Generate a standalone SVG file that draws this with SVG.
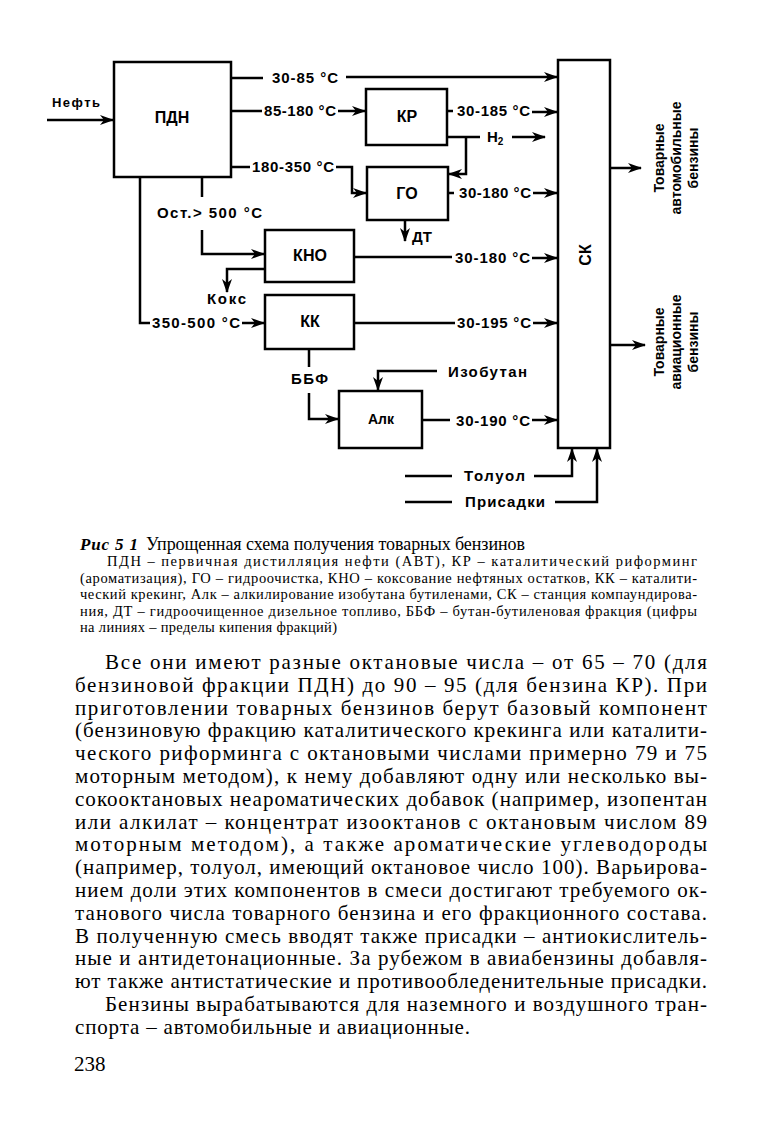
<svg xmlns="http://www.w3.org/2000/svg" width="764" height="1133" viewBox="0 0 764 1133">
<style>
.box{fill:none;stroke:#000;stroke-width:2.5}
.ln{fill:none;stroke:#000;stroke-width:2.5}
.arr{marker-end:url(#ah)}
.lbl{font-family:"Liberation Sans",Arial,sans-serif;font-weight:bold;font-size:15px;fill:#000}
.nm{font-family:"Liberation Sans",Arial,sans-serif;font-weight:bold;font-size:16px;text-anchor:middle;fill:#000}
.vt{font-family:"Liberation Sans",Arial,sans-serif;font-weight:bold;font-size:14px;text-anchor:middle;fill:#000}
.cap{font-family:"Liberation Serif","Times New Roman",serif;font-size:14.5px;fill:#000}
.body{font-family:"Liberation Serif","Times New Roman",serif;font-size:21px;fill:#000}
</style>
<defs>
<marker id="ah" markerUnits="userSpaceOnUse" markerWidth="14" markerHeight="10" refX="13" refY="5" orient="auto"><path d="M0,0 L14,5 L0,10 L4,5 Z" fill="#000"/></marker>
</defs>

<g id="node-pdn"><rect class="box" x="114" y="62" width="117" height="115"/><text class="nm" x="172" y="123">ПДН</text></g>
<g id="node-kr"><rect class="box" x="366" y="89" width="81" height="56"/><text class="nm" x="407" y="122">КР</text></g>
<g id="node-go"><rect class="box" x="367" y="167" width="81" height="53"/><text class="nm" x="407" y="199">ГО</text></g>
<g id="node-kno"><rect class="box" x="265" y="230" width="89" height="52"/><text class="nm" x="310" y="261">КНО</text></g>
<g id="node-kk"><rect class="box" x="265" y="295" width="89" height="54"/><text class="nm" x="310" y="327">КК</text></g>
<g id="node-alk"><rect class="box" x="339" y="391" width="83" height="57"/><text class="nm" x="381" y="424" style="font-size:14px">Алк</text></g>
<g id="node-sk"><rect class="box" x="558" y="60" width="52" height="388"/><text class="nm" transform="translate(591,255) rotate(-90)">СК</text></g>
<g id="node-out-auto"><text class="vt" transform="translate(664,158) rotate(-90)">Товарные</text><text class="vt" transform="translate(681,158) rotate(-90)">автомобильные</text><text class="vt" transform="translate(698,158) rotate(-90)">бензины</text></g>
<g id="node-out-avia"><text class="vt" transform="translate(664,342) rotate(-90)">Товарные</text><text class="vt" transform="translate(681,342) rotate(-90)">авиационные</text><text class="vt" transform="translate(698,342) rotate(-90)">бензины</text></g>

<g id="connectors">
<path class="ln arr" d="M47,120 H113"/>
<path class="ln" d="M231,78 H263"/><path class="ln arr" d="M346,77 H557"/>
<path class="ln" d="M231,111 H262"/><path class="ln arr" d="M338,111 H365"/>
<path class="ln" d="M447,111 H453"/><path class="ln arr" d="M532,112 H557"/>
<path class="ln" d="M447,137 H480"/><path class="ln arr" d="M512,137 H545"/>
<path class="ln arr" d="M466,137 V174 H449"/>
<path class="ln" d="M231,167 H250"/><path class="ln arr" d="M336,167 H352 V193 H366"/>
<path class="ln" d="M448,193 H454"/><path class="ln arr" d="M533,193 H557"/>
<path class="ln arr" d="M405,220 V241"/>
<path class="ln" d="M202,177 V197"/><path class="ln arr" d="M202,230 V254 H264"/>
<path class="ln arr" d="M265,269 H227 V292"/>
<path class="ln" d="M354,257 H452"/><path class="ln arr" d="M532,258 H557"/>
<path class="ln" d="M140,177 V323 H150"/><path class="ln arr" d="M242,323 H264"/>
<path class="ln" d="M354,323 H455"/><path class="ln arr" d="M533,323 H557"/>
<path class="ln" d="M309,349 V367"/><path class="ln arr" d="M309,393 V419 H338"/>
<path class="ln arr" d="M437,371 H378 V390"/>
<path class="ln" d="M422,420 H450"/><path class="ln arr" d="M532,420 H557"/>
<path class="ln" d="M405,476 H452"/><path class="ln arr" d="M534,476 H572 V449"/>
<path class="ln" d="M405,502 H452"/><path class="ln arr" d="M555,502 H597 V449"/>
<path class="ln arr" d="M610,168 H641"/>
<path class="ln arr" d="M610,345 H645"/>
<text class="lbl" x="52" y="107" style="font-size:13px" textLength="48">Нефть</text>
<text class="lbl" x="272" y="83" textLength="66">30-85 °C</text>
<text class="lbl" x="264" y="116" textLength="72">85-180 °C</text>
<text class="lbl" x="457" y="116" textLength="73">30-185 °C</text>
<text class="lbl" x="487" y="142">H<tspan dy="3" style="font-size:10px">2</tspan></text>
<text class="lbl" x="252" y="172" textLength="82">180-350 °C</text>
<text class="lbl" x="459" y="198" textLength="72">30-180 °C</text>
<text class="lbl" x="412" y="242">ДТ</text>
<text class="lbl" x="157" y="218" textLength="105">Ост.&gt; 500 °C</text>
<text class="lbl" x="207" y="304" textLength="39">Кокс</text>
<text class="lbl" x="455" y="263" textLength="75">30-180 °C</text>
<text class="lbl" x="152" y="328" textLength="88">350-500 °C</text>
<text class="lbl" x="457" y="328" textLength="74">30-195 °C</text>
<text class="lbl" x="291" y="384" textLength="37">ББФ</text>
<text class="lbl" x="448" y="377" textLength="79">Изобутан</text>
<text class="lbl" x="456" y="426" textLength="74">30-190 °C</text>
<text class="lbl" x="464" y="481" textLength="61">Толуол</text>
<text class="lbl" x="465" y="507" textLength="80">Присадки</text>
</g>

<g id="caption">
<text class="cap" x="80" y="550" style="font-size:17px;font-style:italic;font-weight:bold" textLength="58">Рис  5 1</text>
<text class="cap" x="146" y="550" style="font-size:18px" textLength="379">Упрощенная схема получения товарных бензинов</text>
<text class="cap" x="107" y="566" textLength="590">ПДН – первичная дистилляция нефти (АВТ), КР – каталитический риформинг</text>
<text class="cap" x="80" y="583" textLength="617">(ароматизация), ГО – гидроочистка, КНО – коксование нефтяных остатков, КК – каталити-</text>
<text class="cap" x="80" y="599" textLength="617">ческий крекинг, Алк – алкилирование изобутана бутиленами, СК – станция компаундирова-</text>
<text class="cap" x="80" y="616" textLength="617">ния, ДТ – гидроочищенное дизельное топливо, ББФ – бутан-бутиленовая фракция (цифры</text>
<text class="cap" x="80" y="632" textLength="257">на линиях – пределы кипения фракций)</text>
</g>

<g id="body">
<text class="body" x="105" y="669" textLength="602">Все они имеют разные октановые числа – от 65 – 70 (для</text>
<text class="body" x="75" y="692" textLength="632">бензиновой фракции ПДН) до 90 – 95 (для бензина КР). При</text>
<text class="body" x="75" y="715" textLength="632">приготовлении товарных бензинов берут базовый компонент</text>
<text class="body" x="75" y="737" textLength="632">(бензиновую фракцию каталитического крекинга или каталити-</text>
<text class="body" x="75" y="760" textLength="632">ческого риформинга с октановыми числами примерно 79 и 75</text>
<text class="body" x="75" y="783" textLength="632">моторным методом), к нему добавляют одну или несколько вы-</text>
<text class="body" x="75" y="806" textLength="632">сокооктановых неароматических добавок (например, изопентан</text>
<text class="body" x="75" y="829" textLength="632">или алкилат – концентрат изооктанов с октановым числом 89</text>
<text class="body" x="75" y="851" textLength="632">моторным методом), а также ароматические углеводороды</text>
<text class="body" x="75" y="874" textLength="632">(например, толуол, имеющий октановое число 100). Варьирова-</text>
<text class="body" x="75" y="897" textLength="632">нием доли этих компонентов в смеси достигают требуемого ок-</text>
<text class="body" x="75" y="920" textLength="632">танового числа товарного бензина и его фракционного состава.</text>
<text class="body" x="75" y="943" textLength="632">В полученную смесь вводят также присадки – антиокислитель-</text>
<text class="body" x="75" y="965" textLength="632">ные и антидетонационные. За рубежом в авиабензины добавля-</text>
<text class="body" x="75" y="988" textLength="632">ют также антистатические и противообледенительные присадки.</text>
<text class="body" x="105" y="1011" textLength="602">Бензины вырабатываются для наземного и воздушного тран-</text>
<text class="body" x="75" y="1034" textLength="395">спорта – автомобильные и авиационные.</text>
<text class="body" x="74" y="1071">238</text>
</g>
</svg>
